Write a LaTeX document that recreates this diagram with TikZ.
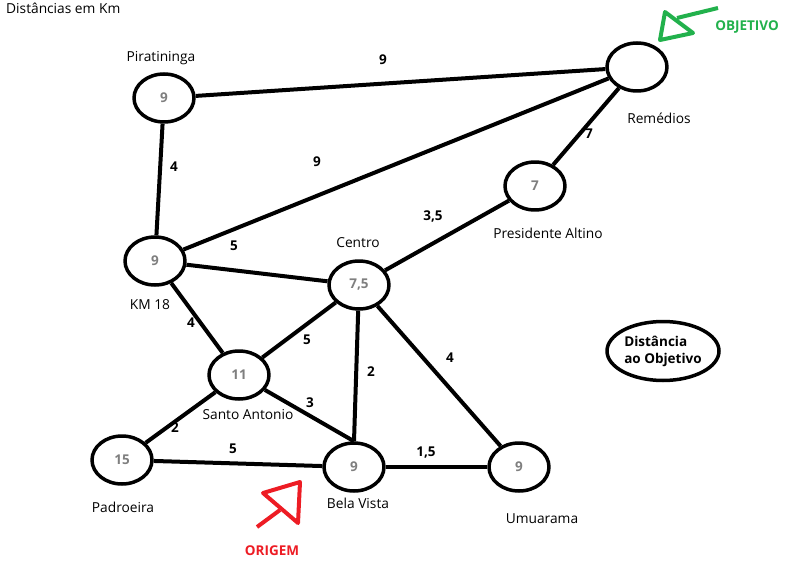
\documentclass[tikz,border=0pt]{standalone}
\usepackage{fontspec}
\setmainfont{Open Sans}
\usetikzlibrary{shapes.geometric}
\usepackage{xcolor}
\definecolor{paintgreen}{RGB}{34,177,76}
\definecolor{paintred}{RGB}{237,28,36}
\definecolor{valuegray}{RGB}{127,127,127}
\tikzset{citynode/.style={ellipse, draw=black, line width=3.5pt, minimum width=60pt, minimum height=48pt, inner sep=0pt, text=valuegray, font=\fontsize{13.5}{15}\selectfont\bfseries},
citylabel/.style={inner sep=0pt, text=black, font=\fontsize{13.75}{15}\selectfont},
weightlabel/.style={inner sep=0pt, text=black, font=\fontsize{13.5}{15}\selectfont\bfseries},
road/.style={draw=black, line width=4pt}}

\begin{document}
\begin{tikzpicture}[
                x=1pt, y=-1pt,
                line join=round,
                markerline/.style={line width=4pt}
            ]
                \useasboundingbox (0,0) rectangle (791,564);

                % Cities
                \node[citynode] (pir) at (164,98) {9};
                \node[citynode] (rem) at (637,67) {};
                \node[citynode] (pres) at (535,186) {7};
                \node[citynode] (km) at (155,261) {9};
                \node[citynode] (cen) at (359,285) {7,5};
                \node[citynode] (sa) at (239,375) {11};
                \node[citynode] (pad) at (122,460) {15};
                \node[citynode] (bv) at (354,467) {9};
                \node[citynode] (umu) at (519,467) {9};

                % Roads
                \foreach \a/\b in {pir/rem, km/rem, rem/pres, pir/km, pres/cen, km/cen, km/sa, cen/sa, cen/umu, sa/pad, pad/bv, bv/umu} {
\draw[road] (\a) -- (\b);
}
                \draw[road] (cen) -- (bv.north);
                \draw[road] (sa) -- (bv.north);

                % Distances
                \foreach \n/\x/\y/\w in {1/383/60/9, 2/317/162/9, 3/589/134/7, 4/174/167/4, 5/234/246/5, 6/191/323/4, 7/433/216/{3,5}, 8/307/340/5, 9/371/372/2, 10/450/358/4, 11/310/403/3, 12/175/428/2, 13/233/449/5, 14/426/453/{1,5}} {
\node[weightlabel] (w\n) at (\x,\y) {\w};
}

                % City names
                \node[citylabel] (lpir) at (161,58) {Piratininga};
                \node[citylabel] (lrem) at (659,118) {Remédios};
                \node[citylabel] (lpres) at (548,233) {Presidente Altino};
                \node[citylabel] (lkm) at (150,305) {KM 18};
                \node[citylabel] (lcen) at (358,243) {Centro};
                \node[citylabel] (lsa) at (248,415) {Santo Antonio};
                \node[citylabel] (lpad) at (123,507) {Padroeira};
                \node[citylabel] (lbv) at (358,503) {Bela Vista};
                \node[citylabel] (lumu) at (542,519) {Umuarama};

                \node[citylabel, anchor=west] (title) at (6,8) {Distâncias em Km};

                % Caption
                \node[ellipse, draw=black, line width=3.5pt, minimum width=112pt, minimum height=59pt, inner sep=0pt, align=left, font=\fontsize{13.5}{17}\selectfont\bfseries] (legend) at (663,351) {Distância\\ao Objetivo};

                % Start and goal
                \draw[markerline, paintgreen] (718,8) -- (677,18);
                \draw[markerline, paintgreen] (665,12) -- (660,40) -- (693,33) -- cycle;
                \node[weightlabel, text=paintgreen] (goal) at (747,27) {OBJETIVO};

                \draw[markerline, paintred] (257,527) -- (280,510);
                \draw[markerline, paintred] (263,493) -- (300,482) -- (298,523) -- cycle;
                \node[weightlabel, text=paintred] (start) at (272,551) {ORIGEM};
            \end{tikzpicture}
\end{document}
